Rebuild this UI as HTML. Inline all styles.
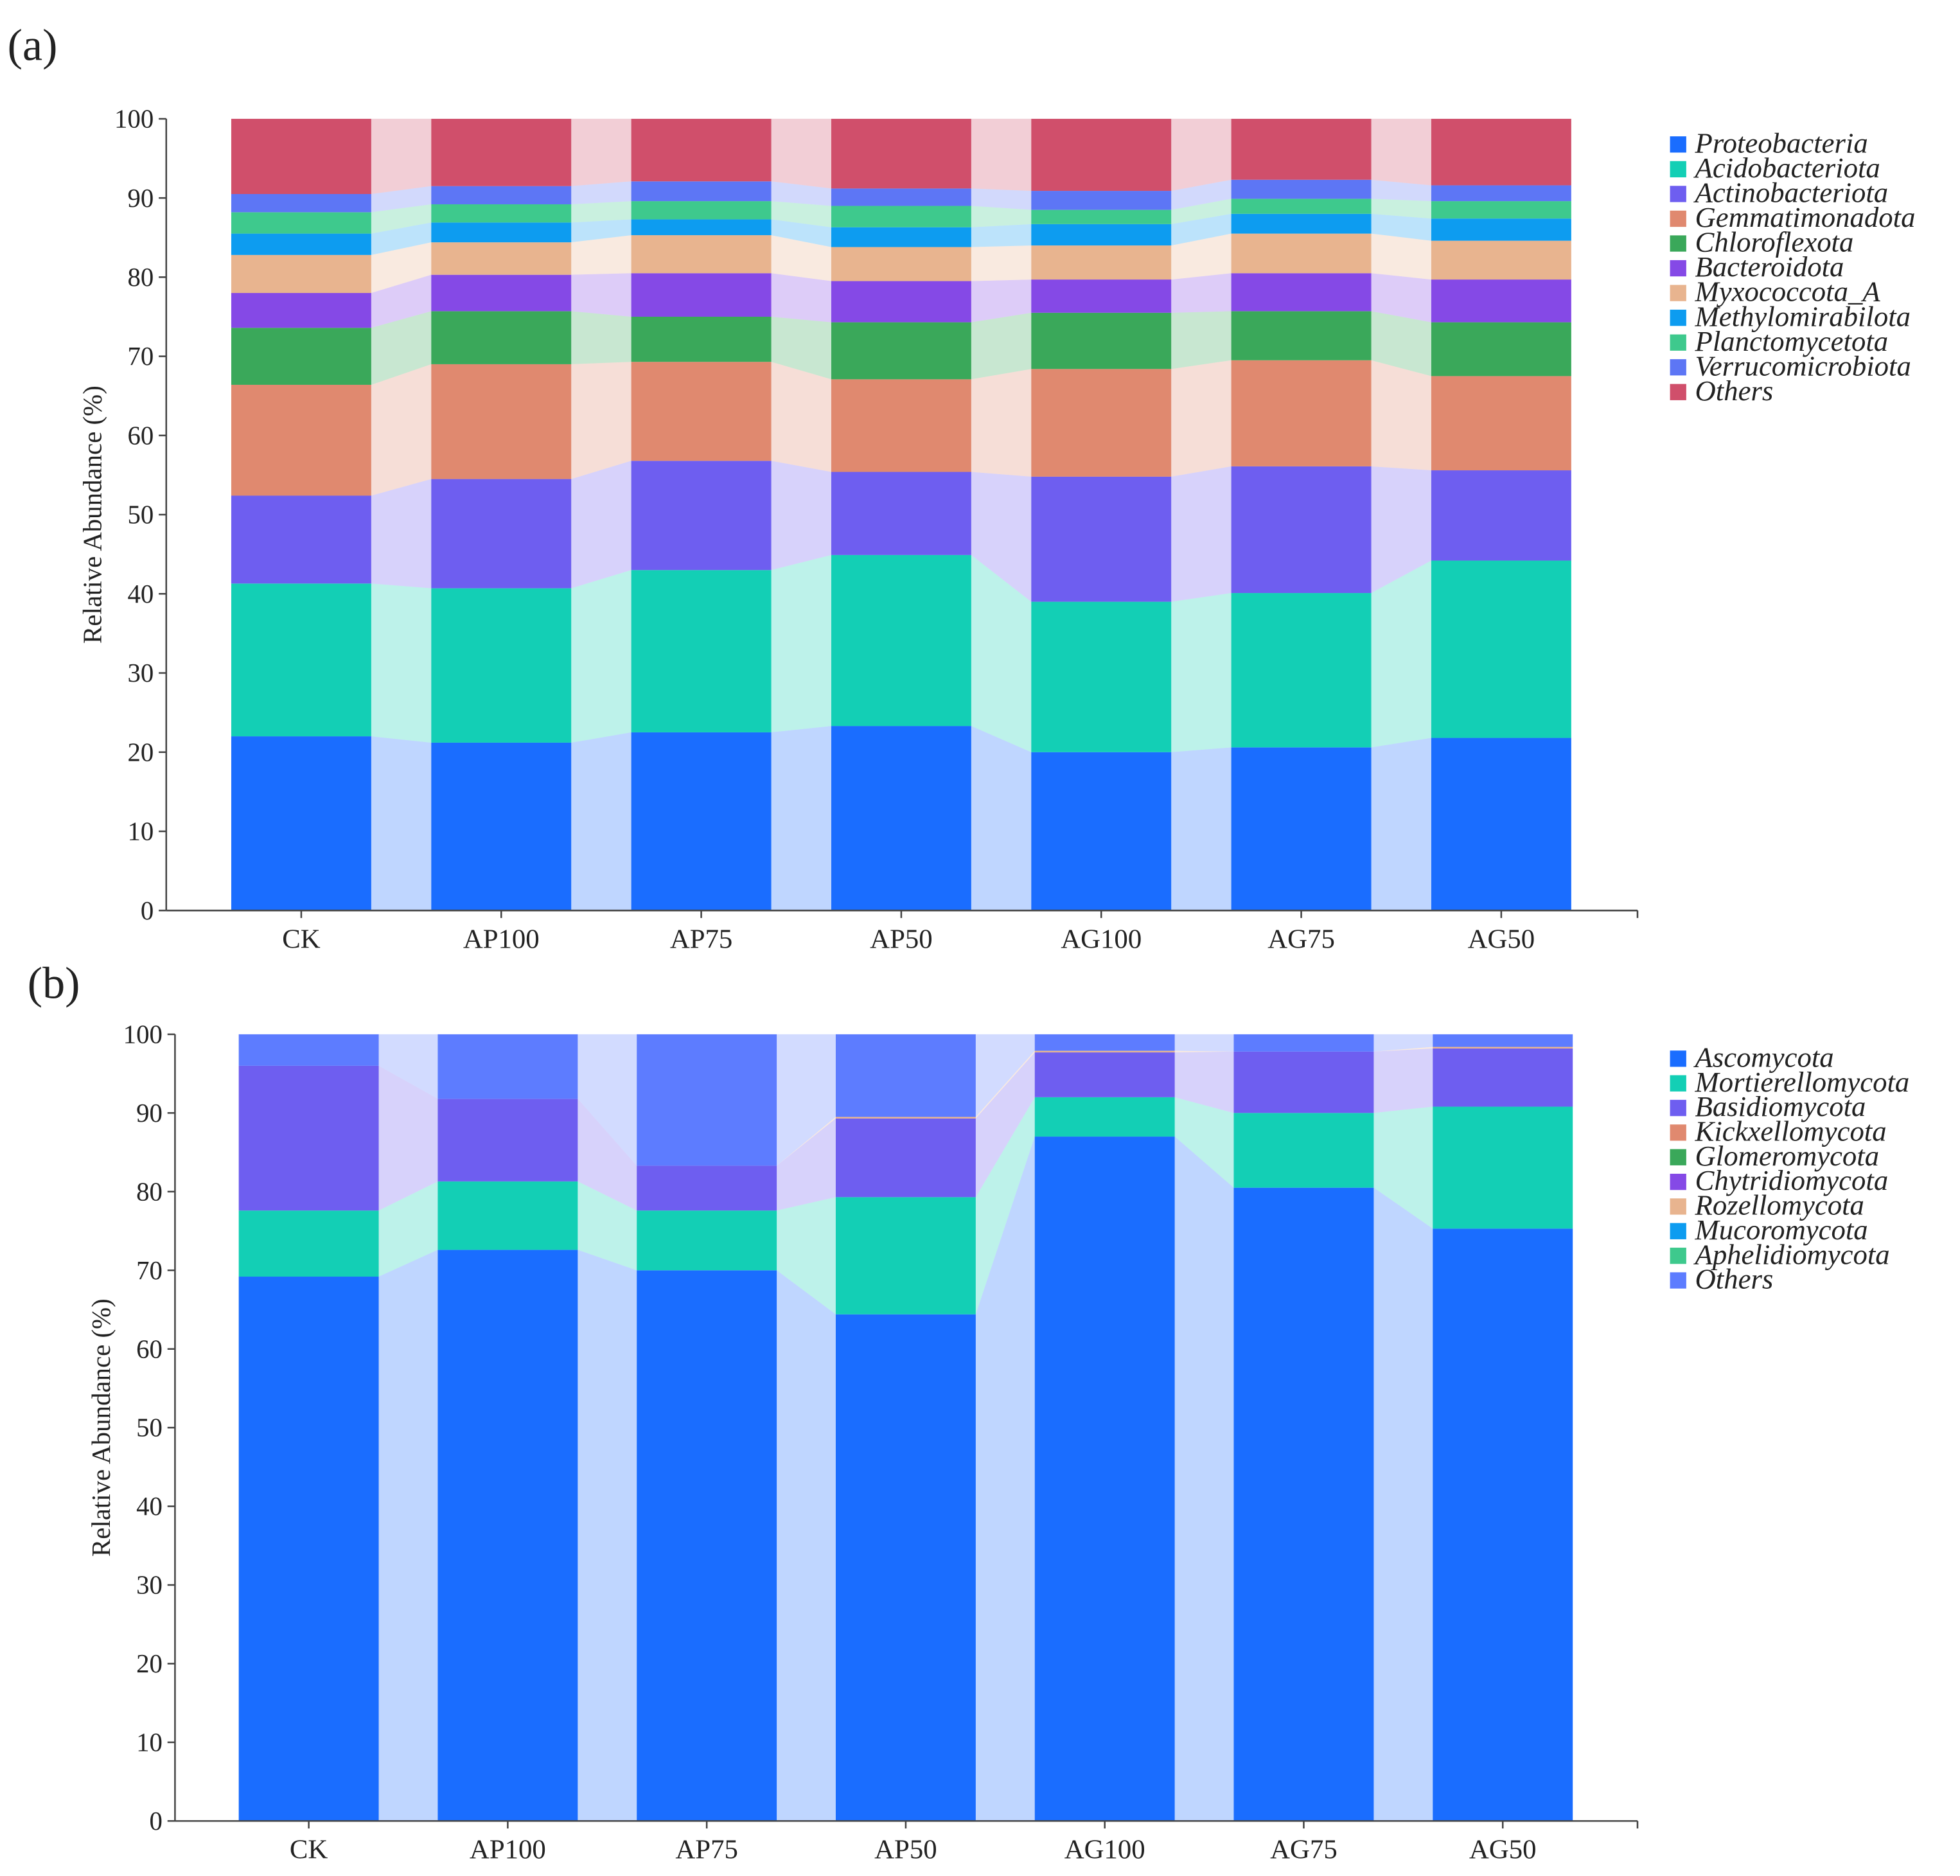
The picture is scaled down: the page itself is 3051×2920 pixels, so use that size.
<!DOCTYPE html>
<html><head><meta charset="utf-8"><style>
html,body{margin:0;padding:0;background:#fff}
svg{display:block}
text{font-family:"Liberation Serif",serif;fill:#222}
</style></head><body>
<svg id="c" width="3051" height="2920" viewBox="0 0 1568 1500" preserveAspectRatio="none" xmlns="http://www.w3.org/2000/svg"></svg>
<script>
const categories=["CK","AP100","AP75","AP50","AG100","AG75","AG50"];
const bactNames=["Proteobacteria","Acidobacteriota","Actinobacteriota","Gemmatimonadota","Chloroflexota","Bacteroidota","Myxococcota_A","Methylomirabilota","Planctomycetota","Verrucomicrobiota","Others"];
const bactColors=["#1a6dff","#13cfb5","#6e5ef0","#e0896f","#3aa85a","#8549e6","#e8b48f","#0d9cf0","#3ec98d","#5d76f5","#d04f6b"];
const bactCK=[22,41.3,52.4,66.4,73.6,78,82.8,85.5,88.2,90.5,100];
const bactAP100=[21.2,40.7,54.5,69,75.7,80.3,84.4,86.9,89.2,91.5,100];
const bactAP75=[22.5,43,56.8,69.3,75,80.5,85.3,87.3,89.6,92.1,100];
const bactAP50=[23.3,44.9,55.4,67.1,74.3,79.5,83.8,86.3,89,91.2,100];
const bactAG100=[20,39,54.8,68.4,75.5,79.7,84,86.7,88.5,90.9,100];
const bactAG75=[20.6,40.1,56.1,69.5,75.7,80.5,85.5,88,89.9,92.3,100];
const bactAG50=[21.8,44.2,55.6,67.5,74.3,79.7,84.6,87.4,89.6,91.6,100];
const fungNames=["Ascomycota","Mortierellomycota","Basidiomycota","Kickxellomycota","Glomeromycota","Chytridiomycota","Rozellomycota","Mucoromycota","Aphelidiomycota","Others"];
const fungColors=["#1a6dff","#13cfb5","#6e5ef0","#e0896f","#3aa85a","#8549e6","#e8b48f","#0d9cf0","#3ec98d","#5d7cff"];
const fungCK=[69.2,77.6,96,96,96,96,96,96,96,100];
const fungAP100=[72.6,81.3,91.8,91.8,91.8,91.8,91.8,91.8,91.8,100];
const fungAP75=[70,77.6,83.3,83.3,83.3,83.3,83.3,83.3,83.3,100];
const fungAP50=[64.4,79.3,89.3,89.3,89.3,89.3,89.5,89.5,89.5,100];
const fungAG100=[87,92,97.7,97.7,97.7,97.7,97.9,97.9,97.9,100];
const fungAG75=[80.5,90,97.8,97.8,97.8,97.8,97.8,97.8,97.8,100];
const fungAG50=[75.3,90.8,98.2,98.2,98.2,98.2,98.4,98.4,98.4,100];
const yTicks=[0,10,20,30,40,50,60,70,80,90,100];

const svg=document.getElementById('c');
const NS="http://www.w3.org/2000/svg";
function mk(t,a,p){const e=document.createElementNS(NS,t);for(const k in a)e.setAttribute(k,a[k]);(p||svg).appendChild(e);return e;}

function panel(cfg){
  const {x0,x1,yTop,yBot,bar0,step,names,colors,data,legY,legStep,label,labelX,labelY,id}=cfg;
  const g=mk('g',{});
  
  
  const ys=v=>yBot-(yBot-yTop)*v/100;
  const bw=112;
  const xs=i=>bar0+i*step;
  for(let i=0;i<data.length-1;i++){
    for(let s=0;s<names.length;s++){
      const a0=s?data[i][s-1]:0,a1=data[i][s],b0=s?data[i+1][s-1]:0,b1=data[i+1][s];
      const xa=xs(i)+bw,xb=xs(i+1);
      const p=mk('polygon',{points:`${xa},${ys(a0)} ${xa},${ys(a1)} ${xb},${ys(b1)} ${xb},${ys(b0)}`,fill:colors[s],'fill-opacity':0.28},g);
      
      
    }
  }
  for(let i=0;i<data.length;i++){
    for(let s=0;s<names.length;s++){
      const lo=s?data[i][s-1]:0,hi=data[i][s];
      if(hi-lo<=0)continue;
      const r=mk('rect',{x:xs(i),y:ys(hi),width:bw,height:Math.max(ys(lo)-ys(hi),0.8),fill:colors[s]},g);
      
      
    }
  }
  mk('line',{x1:x0,y1:yTop,x2:x0,y2:yBot,stroke:'#444','stroke-width':1.3},g);
  mk('line',{x1:x0,y1:yBot,x2:x1,y2:yBot,stroke:'#444','stroke-width':1.3},g);
  yTicks.forEach(v=>{
    mk('line',{x1:x0-6,y1:ys(v),x2:x0,y2:ys(v),stroke:'#444','stroke-width':1.3},g);
    const t=mk('text',{x:x0-10,y:ys(v)+7,'text-anchor':'end','font-size':21},g);t.textContent=v;
    
    
  });
  for(let i=0;i<=categories.length;i++){
    const xt=i<categories.length?xs(i)+bw/2:x1;
    mk('line',{x1:xt,y1:yBot,x2:xt,y2:yBot+6,stroke:'#444','stroke-width':1.3},g);
  }
  categories.forEach((c,i)=>{
    const t=mk('text',{x:xs(i)+bw/2,y:yBot+30,'text-anchor':'middle','font-size':22},g);t.textContent=c;
    
    
  });
  const yl=mk('text',{x:0,y:0,'text-anchor':'middle','font-size':21,transform:`translate(${x0-52},${(yTop+yBot)/2}) rotate(-90)`},g);
  yl.textContent='Relative Abundance (%)';
  
  
  const pl=mk('text',{x:labelX,y:labelY,'font-size':36},g);pl.textContent=label;
  
  
  names.forEach((n,s)=>{
    const y=legY+s*legStep;
    const r=mk('rect',{x:1336,y:y-6,width:13,height:13,fill:colors[s]},g);
    
    
    const t=mk('text',{x:1356,y:y+7,'font-size':23,'font-style':'italic'},g);t.textContent=n;
    
    
  });
}
panel({id:'bacteria',x0:133,x1:1310,yTop:95,yBot:728,bar0:185,step:160,names:bactNames,colors:bactColors,
  data:[bactCK,bactAP100,bactAP75,bactAP50,bactAG100,bactAG75,bactAG50],legY:115,legStep:19.8,label:'(a)',labelX:6,labelY:48});
panel({id:'fungi',x0:140,x1:1310,yTop:827,yBot:1456,bar0:191,step:159.2,names:fungNames,colors:fungColors,
  data:[fungCK,fungAP100,fungAP75,fungAP50,fungAG100,fungAG75,fungAG50],legY:846,legStep:19.7,label:'(b)',labelX:22,labelY:798});
</script>
</body></html>
